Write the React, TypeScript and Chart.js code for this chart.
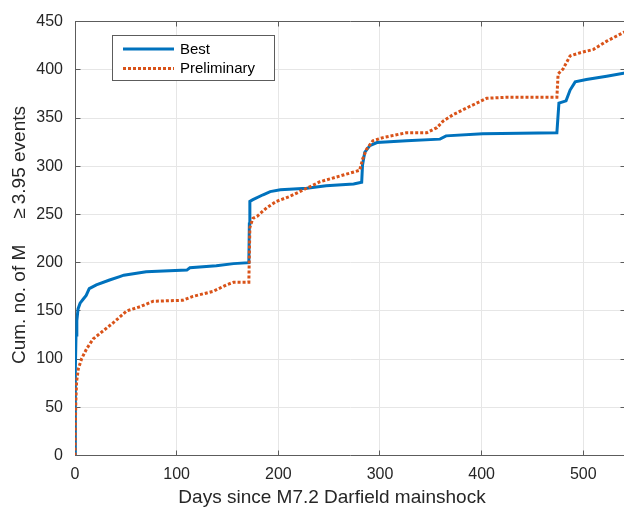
import React, { useEffect, useRef } from "react";
import { Chart, registerables } from "chart.js";

Chart.register(...registerables);

// ---- data ----
const seriesLabels = ["Best", "Preliminary"];

const bestDays = [
  0, 0.2, 0.5, 1, 1.8, 3, 5, 8, 11, 14, 21, 34, 44, 48, 70, 110, 113, 139, 156, 171,
  171.5, 172, 175, 185, 192, 202, 228, 247, 274, 282, 282.8, 285, 290, 297, 326, 359,
  365, 401, 474, 476, 483, 487, 492, 503, 523, 541,
];
const bestCounts = [
  0, 40, 90, 125, 140, 152, 158, 162, 166, 173, 177, 182, 185.5, 187, 190.6, 192.3, 194.7,
  196.7, 199, 200, 240, 263.5, 265.3, 270.4, 273.7, 275.5, 277.2, 279.8, 281.6, 283.3, 301,
  314.5, 321.3, 324.6, 326.4, 328.1, 331.5, 333.8, 334.8, 365.4, 367.8, 379, 387.5, 389.9,
  393.3, 396.6,
];

const prelimDays = [
  0, 0.3, 0.8, 1.6, 3.3, 6.6, 11.5, 18, 28, 38, 51, 64, 77, 106, 116, 136, 149, 156, 171,
  172, 175, 179, 188.5, 198, 211, 228, 241, 261, 280, 283, 287, 293, 303, 326, 346, 356,
  362, 372, 385, 395, 405, 424, 474, 475.2, 480, 487, 497, 510, 523, 541,
];
const prelimCounts = [
  0, 30, 56, 77, 90, 100.6, 110.8, 121, 129.5, 138, 150, 154.3, 160, 161, 165, 170.3, 177,
  179.7, 179.7, 236.5, 246, 248, 256.8, 263.5, 268.6, 277.2, 283.9, 290, 295.8, 307.7, 318,
  326.4, 329.7, 334.8, 334.8, 340, 346.7, 353.5, 360.3, 365.4, 370.5, 371.5, 371.5, 395.7,
  400.8, 414.4, 417.7, 421.2, 429.7, 439.5,
];

const xTickValues = [0, 100, 200, 300, 400, 500];
const yTickValues = [0, 50, 100, 150, 200, 250, 300, 350, 400, 450];
const xTitle = "Days since M7.2 Darfield mainshock";
const yTitleParts = ["Cum. no. of M", "\u2265", "3.95 events"];

// ---- styles ----
const FONT = '"Liberation Sans", Arial, Helvetica, sans-serif';
const AXIS = "#5c5c5c";
const TEXT = "#262626";
const GRID = "#e6e6e6";
const BLUE = "#0072BD";
const ORANGE = "#D95319";

export default function App() {
  const ref = useRef<HTMLCanvasElement | null>(null);

  useEffect(() => {
    document.body.style.margin = "0";
    const canvas = ref.current;
    if (!canvas) return;

    const decor = {
      id: "matlabDecor",
      beforeDatasetsDraw(chart: any) {
        const { ctx, chartArea: a, scales } = chart;
        const x = scales.x;
        const y = scales.y;
        ctx.save();
        ctx.strokeStyle = AXIS;
        ctx.lineWidth = 1;
        ctx.beginPath();
        const top = Math.round(a.top - 0.5) + 0.5;
        const bottom = Math.round(a.bottom - 0.5) + 0.5;
        const left = Math.round(a.left - 0.5) + 0.5;
        const right = Math.round(a.right - 0.5) + 0.5;
        ctx.moveTo(left, top);
        ctx.lineTo(right, top);
        for (const v of xTickValues) {
          const p = Math.round(x.getPixelForValue(v) - 0.5) + 0.5;
          ctx.moveTo(p, bottom);
          ctx.lineTo(p, bottom - 5);
          ctx.moveTo(p, top);
          ctx.lineTo(p, top + 5);
        }
        for (const v of yTickValues) {
          const p = Math.round(y.getPixelForValue(v) - 0.5) + 0.5;
          ctx.moveTo(left, p);
          ctx.lineTo(left + 5, p);
          ctx.moveTo(right, p);
          ctx.lineTo(right - 5, p);
        }
        ctx.stroke();
        ctx.restore();
      },
      afterDraw(chart: any) {
        const { ctx, data } = chart;
        ctx.save();
        // legend
        ctx.fillStyle = "#ffffff";
        ctx.fillRect(112.5, 35.5, 162, 45);
        ctx.strokeStyle = AXIS;
        ctx.lineWidth = 1;
        ctx.strokeRect(112.5, 35.5, 162, 45);
        const rows = [49, 68.5];
        data.datasets.forEach((ds: any, i: number) => {
          ctx.beginPath();
          ctx.strokeStyle = ds.borderColor;
          ctx.lineWidth = ds.borderWidth;
          ctx.lineCap = "butt";
          ctx.setLineDash(ds.borderDash || []);
          ctx.moveTo(123, rows[i]);
          ctx.lineTo(174, rows[i]);
          ctx.stroke();
          ctx.setLineDash([]);
          ctx.fillStyle = "#000000";
          ctx.font = `15px ${FONT}`;
          ctx.textAlign = "left";
          ctx.textBaseline = "middle";
          ctx.fillText(ds.label, 180, rows[i] + 0.5);
        });

        // x title
        ctx.fillStyle = TEXT;
        ctx.font = `19px ${FONT}`;
        ctx.textAlign = "center";
        ctx.textBaseline = "alphabetic";
        ctx.fillText(xTitle, 332, 502.5);

        // y title (rotated)
        ctx.translate(24.5, 0);
        ctx.rotate(-Math.PI / 2);
        ctx.textAlign = "left";
        const w1 = ctx.measureText(yTitleParts[0]).width;
        const w2 = ctx.measureText(yTitleParts[1]).width;
        const w3 = ctx.measureText(yTitleParts[2]).width;
        const gap1 = 26;
        const gap2 = 4;
        const total = w1 + gap1 + w2 + gap2 + w3;
        let u = -235 - total / 2;
        ctx.fillText(yTitleParts[0], u, 0);
        u += w1 + gap1;
        ctx.fillText(yTitleParts[1], u, 0);
        u += w2 + gap2;
        ctx.fillText(yTitleParts[2], u, 0);
        ctx.restore();
      },
    };

    const chart = new Chart(canvas, {
      type: "line",
      data: {
        datasets: [
          {
            label: seriesLabels[0],
            data: bestDays.map((d, i) => ({ x: d, y: bestCounts[i] })),
            borderColor: BLUE,
            borderWidth: 3,
            pointRadius: 0,
            tension: 0,
            fill: false,
            order: 1,
          },
          {
            label: seriesLabels[1],
            data: prelimDays.map((d, i) => ({ x: d, y: prelimCounts[i] })),
            borderColor: ORANGE,
            borderWidth: 3,
            borderDash: [3, 2],
            borderCapStyle: "butt",
            pointRadius: 0,
            tension: 0,
            fill: false,
            order: 0,
          },
        ],
      },
      options: {
        responsive: false,
        animation: false,
        devicePixelRatio: 1,
        layout: { padding: { top: 13.5, right: 1, left: 0, bottom: 0 } },
        plugins: { legend: { display: false }, tooltip: { enabled: false } },
        scales: {
          x: {
            type: "linear",
            min: 0,
            max: 541,
            afterBuildTicks: (s: any) => {
              s.ticks = xTickValues.map((v) => ({ value: v }));
            },
            afterFit: (s: any) => {
              s.height = 56.5;
            },
            grid: { color: GRID, lineWidth: 1, drawTicks: false },
            border: { color: AXIS, width: 1 },
            ticks: {
              color: TEXT,
              font: { family: FONT, size: 16 },
              padding: 9,
              maxRotation: 0,
              autoSkip: false,
            },
          },
          y: {
            type: "linear",
            min: 0,
            max: 450,
            afterBuildTicks: (s: any) => {
              s.ticks = yTickValues.map((v) => ({ value: v }));
            },
            afterFit: (s: any) => {
              s.width = 75;
            },
            grid: { color: GRID, lineWidth: 1, drawTicks: false },
            border: { color: AXIS, width: 1 },
            ticks: {
              color: TEXT,
              font: { family: FONT, size: 16 },
              padding: 12,
              autoSkip: false,
            },
          },
        },
      },
      plugins: [decor],
    } as any);

    return () => chart.destroy();
  }, []);

  return (
    <div style={{ width: 624, height: 512, overflow: "hidden", position: "relative" }}>
      <canvas ref={ref} width={626} height={512} style={{ display: "block" }} />
    </div>
  );
}
